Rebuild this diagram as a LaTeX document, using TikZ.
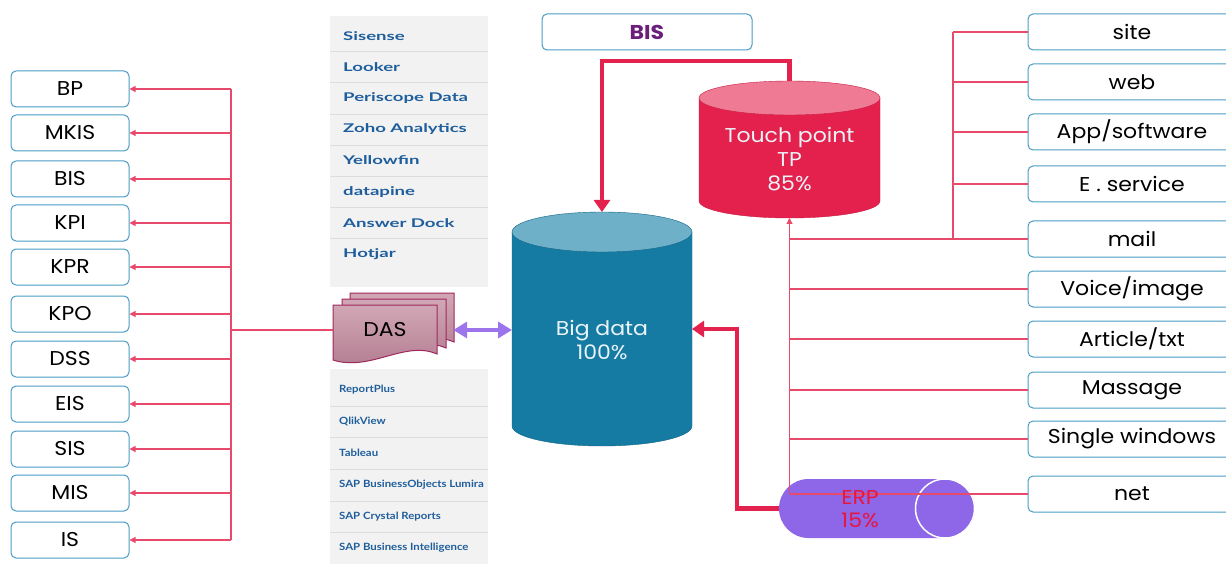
\documentclass[tikz,border=0pt]{standalone}
\usepackage{fontspec}
\setmainfont{Poppins}[FakeStretch=1.1]
\newfontfamily\toolfont[FakeStretch=1.55]{Lato}
\newfontfamily\toolfontsm[FakeStretch=1.14]{Lato}
\usetikzlibrary{arrows.meta,positioning}

\definecolor{boxblue}{HTML}{4A9BC3}
\definecolor{linered}{HTML}{E84A6C}
\definecolor{thickred}{HTML}{E3234D}
\definecolor{bigbody}{HTML}{157BA3}
\definecolor{bigtop}{HTML}{6FB0C9}
\definecolor{bigedge}{HTML}{0F6486}
\definecolor{tpbody}{HTML}{E4214D}
\definecolor{tptop}{HTML}{EE7A93}
\definecolor{tpedge}{HTML}{C81A42}
\definecolor{erpfill}{HTML}{8D67E8}
\definecolor{arrowpurple}{HTML}{9C74EC}
\definecolor{toolblue}{HTML}{1F5E9C}
\definecolor{panelgrey}{HTML}{F2F2F2}
\definecolor{sepgrey}{HTML}{DDDDDD}
\definecolor{bispurple}{HTML}{6B1F7B}
\definecolor{daslight}{HTML}{D2A7B5}
\definecolor{dasdark}{HTML}{B07A8E}
\definecolor{dasedge}{HTML}{A0285E}
\definecolor{erpred}{HTML}{E8163C}
\definecolor{cyltextcol}{HTML}{EAF4F8}

\tikzset{
  box/.style={draw=boxblue, line width=1pt, rounded corners=5pt, minimum width=118,
    minimum height=36, inner sep=0pt, font=\fontsize{20}{22}\selectfont},
  rbox/.style={box, minimum width=208},
  redline/.style={draw=linered, line width=1.1pt},
  redthick/.style={draw=thickred, line width=4.5pt, -{Triangle[length=12pt,width=16pt]}},
  dblarrow/.style={draw=arrowpurple, line width=4pt,
    {Triangle[length=14pt,width=16pt]}-{Triangle[length=14pt,width=16pt]}},
  cylbox/.style={inner sep=0pt, outer sep=0pt},
  cyltext/.style={text=cyltextcol, align=center, font=\fontsize{20}{24}\selectfont},
  tool/.style={anchor=west, text=toolblue, inner sep=0pt, font=\toolfont\bfseries\fontsize{12}{14}\selectfont},
  toolsm/.style={anchor=west, text=toolblue, inner sep=0pt, font=\toolfontsm\bfseries\fontsize{10}{12}\selectfont},
  docpage/.style={draw=dasedge, line width=1pt, top color=daslight, bottom color=dasdark}
}

\begin{document}
\begin{tikzpicture}[x=1pt, y=-1pt]
\useasboundingbox (0,0) rectangle (1226,564);

% tool lists
\fill[panelgrey] (330,16) rectangle (488,287);
\foreach \i in {1,...,7} \draw[sepgrey] (330,20.5+31.1*\i) -- (488,20.5+31.1*\i);
\foreach \txt [count=\i] in {Sisense, Looker, Periscope Data, Zoho Analytics, Yellowfin, datapine, Answer Dock, Hotjar}
  \node[tool] (tool\i) at (343,5+31.1*\i) {\txt};
\fill[panelgrey] (330,369) rectangle (488,564);
\foreach \i in {1,...,5} \draw[sepgrey] (330,374.4+31.6*\i) -- (488,374.4+31.6*\i);
\foreach \txt [count=\i] in {ReportPlus, QlikView, Tableau, SAP BusinessObjects Lumira, SAP Crystal Reports, SAP Business Intelligence}
  \node[toolsm] (rep\i) at (339,358.4+31.6*\i) {\txt};

% left boxes
\foreach \name/\txt/\y in {bp/BP/89, mkis/MKIS/133, bisl/BIS/179, kpi/KPI/223, kpr/KPR/267,
  kpo/KPO/314, dss/DSS/359, eis/EIS/404, sis/SIS/449, mis/MIS/493, is/IS/540}
  \node[box] (\name) at (70,\y) {\txt};

% DAS
\foreach \dx/\dy in {17/-12, 9/-6, 0/0}
  \draw[docpage, shift={(\dx,\dy)}] (333,305) -- (437,305) -- (437,354)
    .. controls (405,340) and (370,372) .. (333,360) -- cycle;
\node[inner sep=0pt, minimum width=104, minimum height=50, font=\fontsize{20}{22}\selectfont] (das) at (385,330) {DAS};

\coordinate (ltrunk) at (231,330);
\draw[redline] (das.west) -- (ltrunk);
\draw[redline] (ltrunk |- bp.east) -- (ltrunk |- is.east);
\foreach \name in {bp,mkis,bisl,kpi,kpr,kpo,dss,eis,sis,mis,is}
  \draw[redline, -{Triangle[length=6pt,width=6pt]}] (ltrunk |- \name.east) -- (\name.east);

% Big data
\node[cylbox, minimum width=180, minimum height=234] (big) at (602,329) {};
\filldraw[fill=bigbody, draw=bigedge] (512,232) -- (512,426)
  arc[start angle=180, end angle=0, x radius=90, y radius=20] -- (692,232) -- cycle;
\filldraw[fill=bigtop, draw=bigedge] (602,232) ellipse[x radius=90, y radius=20];
\node[cyltext] (bigtxt) at (602,340) {Big data\\100\%};

% Touch point
\node[cylbox, minimum width=181, minimum height=137] (tp) at (789.5,149.5) {};
\filldraw[fill=tpbody, draw=tpedge] (699,98) -- (699,201)
  arc[start angle=180, end angle=0, x radius=90.5, y radius=17] -- (880,98) -- cycle;
\filldraw[fill=tptop, draw=tpedge] (789.5,98) ellipse[x radius=90.5, y radius=17];
\node[cyltext] (tptxt) at (789.5,159) {Touch point\\TP\\85\%};

% BIS
\node[box, minimum width=210, text=bispurple, font=\bfseries\fontsize{20}{22}\selectfont] (bistop) at (647,32) {BIS};

% ERP
\node[cylbox, fill=erpfill, rounded corners=29.5pt, minimum width=196, minimum height=59] (erp) at (877,508.5) {};
\draw[white, line width=1.5pt] ([xshift=-30pt]erp.east) circle[radius=29.5];

% right boxes
\foreach \name/\txt/\y in {site/site/32, web/web/82, app/App\slash software/132, eserv/E . service/184,
  mail/mail/239, voice/Voice\slash image/289, article/Article\slash txt/339, massage/Massage/390,
  single/Single windows/439, net/net/494}
  \node[rbox] (\name) at (1132,\y) {\txt};

\coordinate (fork) at (953,239);
\draw[redline] (fork |- site.west) -- (fork);
\foreach \name in {site,web,app,eserv,mail}
  \draw[redline] (\name.west) -- (fork |- \name.west);
\draw[redline, line width=2.5pt] (fork) -- (tp.south |- fork);
\draw[redline, -{Triangle[length=6pt,width=6pt]}] (tp.south |- net.west) -- (tp.south);
\foreach \name in {voice,article,massage,single,net}
  \draw[redline] (\name.west) -- (tp.south |- \name.west);
\node[text=erpred, align=center, font=\fontsize{20}{23}\selectfont] (erptxt) at (860,509) {ERP\\15\%};

% thick arrows
\draw[redthick] (tp.north) -- ++(0,-20) -| (big.north);
\draw[redthick] (erp.west) -- ++(-42,0) |- (big.east);
\draw[dblarrow] ([xshift=16pt]das.east) -- (big.west |- das.east);
\end{tikzpicture}
\end{document}
